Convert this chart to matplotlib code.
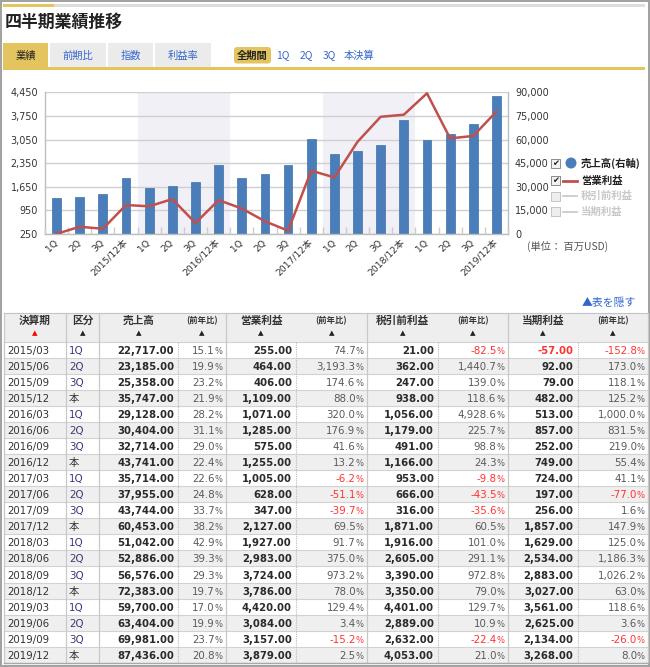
import numpy as np
import matplotlib
matplotlib.use('Agg')
import matplotlib.pyplot as plt
from matplotlib.patches import Rectangle, FancyBboxPatch, Circle
from matplotlib.ticker import FuncFormatter

plt.rcParams['font.family'] = ['DejaVu Sans', 'Noto Sans CJK JP']

# ---------------- data ----------------
periods = ['2015/03', '2015/06', '2015/09', '2015/12', '2016/03', '2016/06', '2016/09', '2016/12',
           '2017/03', '2017/06', '2017/09', '2017/12', '2018/03', '2018/06', '2018/09', '2018/12',
           '2019/03', '2019/06', '2019/09', '2019/12']
kubun = ['1Q', '2Q', '3Q', '本'] * 5
x_labels = ['1Q', '2Q', '3Q', '2015/12本', '1Q', '2Q', '3Q', '2016/12本',
            '1Q', '2Q', '3Q', '2017/12本', '1Q', '2Q', '3Q', '2018/12本',
            '1Q', '2Q', '3Q', '2019/12本']
sales = [22717, 23185, 25358, 35747, 29128, 30404, 32714, 43741, 35714, 37955,
         43744, 60453, 51042, 52886, 56576, 72383, 59700, 63404, 69981, 87436]
sales_yoy = [15.1, 19.9, 23.2, 21.9, 28.2, 31.1, 29.0, 22.4, 22.6, 24.8,
             33.7, 38.2, 42.9, 39.3, 29.3, 19.7, 17.0, 19.9, 23.7, 20.8]
op = [255, 464, 406, 1109, 1071, 1285, 575, 1255, 1005, 628,
      347, 2127, 1927, 2983, 3724, 3786, 4420, 3084, 3157, 3879]
op_yoy = [74.7, 3193.3, 174.6, 88.0, 320.0, 176.9, 41.6, 13.2, -6.2, -51.1,
          -39.7, 69.5, 91.7, 375.0, 973.2, 78.0, 129.4, 3.4, -15.2, 2.5]
pretax = [21, 362, 247, 938, 1056, 1179, 491, 1166, 953, 666,
          316, 1871, 1916, 2605, 3390, 3350, 4401, 2889, 2632, 4053]
pretax_yoy = [-82.5, 1440.7, 139.0, 118.6, 4928.6, 225.7, 98.8, 24.3, -9.8, -43.5,
              -35.6, 60.5, 101.0, 291.1, 972.8, 79.0, 129.7, 10.9, -22.4, 21.0]
net = [-57, 92, 79, 482, 513, 857, 252, 749, 724, 197,
       256, 1857, 1629, 2534, 2883, 3027, 3561, 2625, 2134, 3268]
net_yoy = [-152.8, 173.0, 118.1, 125.2, 1000.0, 831.5, 219.0, 55.4, 41.1, -77.0,
           1.6, 147.9, 125.0, 1186.3, 1026.2, 63.0, 118.6, 3.6, -26.0, 8.0]
left_ticks = [250, 950, 1650, 2350, 3050, 3750, 4450]
right_ticks = [0, 15000, 30000, 45000, 60000, 75000, 90000]
shaded_years = [(4, 7), (12, 15)]
tab_labels = ['業績', '前期比', '指数', '利益率']
period_buttons = ['全期間', '1Q', '2Q', '3Q', '本決算']
legend_labels = ['売上高(右軸)', '営業利益', '税引前利益', '当期利益']
header_labels = ['決算期', '区分', '売上高', '(前年比)', '営業利益', '(前年比)',
                 '税引前利益', '(前年比)', '当期利益', '(前年比)']

# ---------------- figure ----------------
W, H = 650, 667
fig = plt.figure(figsize=(W / 100, H / 100), dpi=100)
bg = fig.add_axes([0, 0, 1, 1])
bg.set_xlim(0, W)
bg.set_ylim(H, 0)
bg.axis('off')

GOLD = '#e3c45e'
BLUE = '#3366cc'
DARK = '#333333'
JP = ['Noto Sans CJK JP', 'DejaVu Sans']

# outer frame
bg.add_patch(Rectangle((0.8, 0.8), W - 1.6, H - 1.6, fill=False, ec='#a0a0a0', lw=1.4))
# top bars
bg.add_patch(Rectangle((3, 4), 51, 3, fc=GOLD, ec='none'))
bg.add_patch(Rectangle((54, 4), 591, 3, fc='#dddddd', ec='none'))
# title
bg.text(5, 22, '四半期業績推移', fontsize=12.2, fontweight='bold', color='#222222',
        va='center', ha='left', family=JP)

# tabs
tab_x = [(3, 48), (50, 106), (108, 153), (155, 211)]
for i, (lab, (x0, x1)) in enumerate(zip(tab_labels, tab_x)):
    active = (i == 0)
    bg.add_patch(Rectangle((x0, 43), x1 - x0, 25, fc=GOLD if active else '#ebebeb', ec='none'))
    bg.text((x0 + x1) / 2, 56, lab, fontsize=7.4, ha='center', va='center',
            color='#222222' if active else BLUE, family=JP)
bg.add_patch(Rectangle((3, 67), 642, 3, fc=GOLD, ec='none'))

# period buttons
btn_x = [252.5, 283, 306, 329, 359]
bg.add_patch(FancyBboxPatch((234, 47), 37, 16.5, boxstyle='round,pad=0,rounding_size=3',
                            fc=GOLD, ec='none'))
for i, (lab, bx) in enumerate(zip(period_buttons, btn_x)):
    bg.text(bx, 55.5, lab, fontsize=7.4, ha='center', va='center',
            color='#222222' if i == 0 else BLUE, fontweight='bold' if i == 0 else 'normal',
            family=JP)

# ---------------- chart ----------------
px0, px1, py0, py1 = 45, 508, 92.3, 234
rect = [px0 / W, 1 - py1 / H, (px1 - px0) / W, (py1 - py0) / H]
axb = fig.add_axes(rect)          # bars (right axis)
axl = axb.twinx()                 # operating income line (left axis)
axl.yaxis.tick_left()
axb.yaxis.tick_right()
axl.set_zorder(axb.get_zorder() + 1)
axl.patch.set_visible(False)

x = np.arange(len(sales))
for a, b in shaded_years:
    axb.axvspan(a - 0.5, b + 0.5, color='#f0f0f6', zorder=0.1, lw=0)
axb.bar(x, sales, width=0.38, color='#4a7ebb', edgecolor='#3f6fa8', lw=0.5, zorder=2)
axb.set_ylim(0, 90000)
axb.set_yticks(right_ticks)
axb.yaxis.set_major_formatter(FuncFormatter(lambda v, p: f'{int(v):,}'))
axb.grid(axis='y', color='#cfcfcf', lw=1.0)
axb.set_axisbelow(True)
axb.tick_params(axis='y', length=0, pad=5, labelsize=6.9, labelcolor=DARK)
axb.set_xlim(-0.5, len(sales) - 0.5)
axb.spines['top'].set_visible(False)
for s in ['left', 'right', 'bottom']:
    axb.spines[s].set_color('#bdbdbd')
    axb.spines[s].set_linewidth(1.0)

axl.plot(x, op, color='#c0504d', lw=1.8, zorder=3)
axl.set_ylim(250, 4450)
axl.set_yticks(left_ticks)
axl.yaxis.set_major_formatter(FuncFormatter(lambda v, p: f'{int(v):,}'))
axl.tick_params(axis='y', length=0, pad=5, labelsize=6.9, labelcolor=DARK)
for s in axl.spines.values():
    s.set_visible(False)
axl.set_xlim(-0.5, len(sales) - 0.5)
axl.set_xticks(x)
axl.set_xticklabels(x_labels, rotation=45, ha='right', va='center', rotation_mode='anchor')
for t in axl.get_xticklabels():
    t.set_family(['DejaVu Sans', 'Noto Sans CJK JP'])
axl.set_xticks(np.arange(-0.5, len(sales), 1.0), minor=True)
axl.tick_params(axis='x', which='major', length=0, pad=5, labelsize=6.7, labelcolor=DARK)
axl.tick_params(axis='x', which='minor', direction='in', length=5, color='#cccccc', width=1)
axl.xaxis.set_visible(True)
axb.xaxis.set_visible(False)

# legend
leg_y = [163, 180.5, 196, 211.5]
for i, (lab, ly) in enumerate(zip(legend_labels, leg_y)):
    on = i < 2
    bg.add_patch(Rectangle((551, ly - 4.5), 9, 9, fc='#f2f2f2' if on else '#eeeeee',
                           ec='#8a8a8a' if on else '#c4c4c4', lw=0.7))
    if on:
        bg.text(555.5, ly + 0.3, '✔', fontsize=6, ha='center', va='center', color='#222222')
    if i == 0:
        bg.add_patch(Circle((571, ly), 5.5, fc='#4a7ebb', ec='none'))
    else:
        bg.plot([563, 577], [ly, ly], color='#c0504d' if on else '#cccccc', lw=2 if on else 1.3)
    bg.text(581, ly, lab, fontsize=7.5, fontweight='bold', ha='left', va='center',
            color='#222222' if on else '#c8c8c8', family=JP)
bg.text(527, 246, '(単位： 百万USD)', fontsize=7.4, ha='left', va='center', color='#555555',
        family=JP)

# ---------------- table ----------------
bg.text(636, 303, '▲表を隠す', fontsize=7.8, ha='right', va='center', color=BLUE, family=JP)

col_edges = [4, 66, 99, 178, 226, 296, 366.7, 438, 507.7, 577.7, 648]
hdr_top, hdr_bot = 313, 341.5
row_h = 16.07
n = len(periods)
tbl_bot = hdr_bot + n * row_h

bg.add_patch(Rectangle((col_edges[0], hdr_top), col_edges[-1] - col_edges[0], hdr_bot - hdr_top,
                       fc='#eeeeee', ec='none'))
for i in range(n):
    top = hdr_bot + i * row_h
    bg.add_patch(Rectangle((col_edges[0], top), col_edges[-1] - col_edges[0], row_h,
                           fc='#ffffff' if i % 2 == 0 else '#efefef', ec='none'))
for i in range(n + 1):
    yy = hdr_bot + i * row_h
    bg.plot([col_edges[0], col_edges[-1]], [yy, yy], color='#d2d2d2', lw=0.8)
bg.plot([col_edges[0], col_edges[-1]], [hdr_top, hdr_top], color='#c4c4c4', lw=0.8)
for ci in [0, 1, 2, 4, 6, 8, 10]:
    xx = col_edges[ci]
    bg.plot([xx, xx], [hdr_top, tbl_bot], color='#c8c8c8', lw=0.9)
for ci in [3, 5, 7, 9]:
    xx = col_edges[ci]
    bg.plot([xx, xx], [hdr_bot, tbl_bot], color='#bbbbbb', lw=0.8, ls=(0, (1, 1)))
bg.plot([col_edges[0], col_edges[-1]], [tbl_bot, tbl_bot], color='#a8a8a8', lw=1.0)

for ci, lab in enumerate(header_labels):
    cx = (col_edges[ci] + col_edges[ci + 1]) / 2
    small = lab.startswith('(')
    bg.text(cx, 321, lab, fontsize=6.0 if small else 7.7, fontweight='bold',
            ha='center', va='center', color=DARK, family=JP)
    bg.text(cx, 333.5, '▲', fontsize=5.2, ha='center', va='center',
            color='#ff0000' if ci == 0 else '#222222')

RED = '#ff3333'
PCT = '#5a5a5a'
NUM_FS = 7.4
BOLD_FS = 7.25


def draw_value(ci, yb, v):
    bg.text(col_edges[ci + 1] - 4, yb, f'{v:,.2f}', fontsize=BOLD_FS, fontweight='bold',
            ha='right', va='baseline', color=RED if v < 0 else '#2a2a2a')


def draw_pct(ci, yb, v):
    c = RED if v < 0 else PCT
    xr = col_edges[ci + 1] - 3.5
    bg.text(xr, yb, '%', fontsize=6.0, ha='right', va='baseline', color=c)
    bg.text(xr - 7.6, yb, f'{v:,.1f}', fontsize=NUM_FS, ha='right', va='baseline', color=c)


for i in range(n):
    top = hdr_bot + i * row_h
    yb = top + row_h / 2 + 4.0
    bg.text(7, yb, periods[i], fontsize=NUM_FS, ha='left', va='baseline', color=DARK)
    bg.text(69, yb, kubun[i], fontsize=NUM_FS, ha='left', va='baseline',
            color='#333333' if kubun[i] == '本' else '#3a3a7a',
            family=['DejaVu Sans', 'Noto Sans CJK JP'])
    draw_value(2, yb, sales[i])
    draw_pct(3, yb, sales_yoy[i])
    draw_value(4, yb, op[i])
    draw_pct(5, yb, op_yoy[i])
    draw_value(6, yb, pretax[i])
    draw_pct(7, yb, pretax_yoy[i])
    draw_value(8, yb, net[i])
    draw_pct(9, yb, net_yoy[i])

fig.savefig('out.png', dpi=100)
